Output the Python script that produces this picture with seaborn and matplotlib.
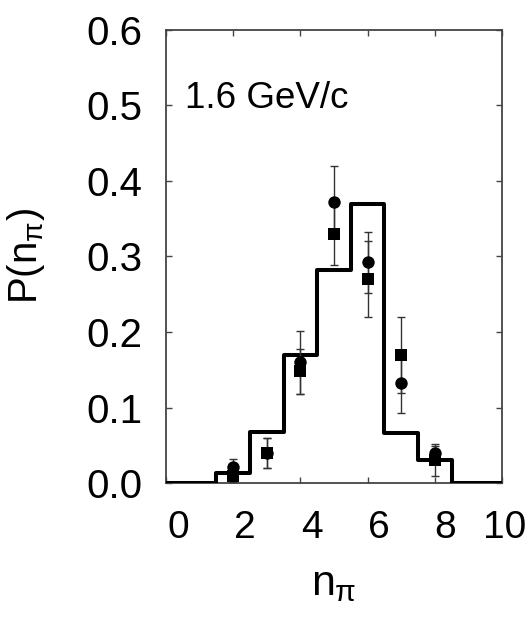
import numpy as np
import pandas as pd
import matplotlib
matplotlib.use("Agg")
import matplotlib.pyplot as plt
import matplotlib.transforms as mtransforms
import seaborn as sns

# ---- data ----
hist_n = [0, 1, 2, 3, 4, 5, 6, 7, 8, 9, 10]
hist_p = [0.0, 0.0, 0.013, 0.068, 0.169, 0.282, 0.369, 0.067, 0.031, 0.0, 0.0]

n_vals = [2, 3, 4, 5, 6, 7, 8]
circ_p = [0.022, 0.040, 0.160, 0.372, 0.292, 0.133, 0.040]
circ_err = [0.010, 0.020, 0.042, 0.048, 0.040, 0.040, 0.009]
sq_p = [0.010, 0.040, 0.148, 0.329, 0.270, 0.170, 0.031]
sq_err = [0.008, 0.020, 0.030, 0.040, 0.050, 0.050, 0.021]

x_ticks = [0, 2, 4, 6, 8, 10]
y_ticks = [0.0, 0.1, 0.2, 0.3, 0.4, 0.5, 0.6]
y_ticklabels = ["0.0", "0.1", "0.2", "0.3", "0.4", "0.5", "0.6"]
label_text = "1.6 GeV/c"

sns.set_theme(style="ticks")
plt.rcParams["font.family"] = ["Liberation Sans", "DejaVu Sans"]
plt.rcParams["mathtext.fontset"] = "custom"
plt.rcParams["mathtext.rm"] = "Liberation Sans"
plt.rcParams["mathtext.it"] = "Liberation Sans"
plt.rcParams["text.color"] = "black"
plt.rcParams["axes.labelcolor"] = "black"

fig = plt.figure(figsize=(5.32, 6.2), dpi=100)
ax = fig.add_axes([0.312, 0.2205, 0.6316, 0.7319])

hist_df = pd.DataFrame({"n": hist_n, "p": hist_p})
sns.lineplot(data=hist_df, x="n", y="p", ax=ax, drawstyle="steps-mid",
             color="black", linewidth=2.9, zorder=3)

ax.errorbar(n_vals, circ_p, yerr=circ_err, fmt="none", ecolor="#333333",
            elinewidth=1.0, capsize=3, capthick=1.0, zorder=4)
ax.errorbar(n_vals, sq_p, yerr=sq_err, fmt="none", ecolor="#333333",
            elinewidth=1.0, capsize=3, capthick=1.0, zorder=4)

circ_df = pd.DataFrame({"n": n_vals, "p": circ_p})
sq_df = pd.DataFrame({"n": n_vals, "p": sq_p})
sns.scatterplot(data=circ_df, x="n", y="p", ax=ax, marker="o", s=80,
                color="black", edgecolor="black", linewidth=0, zorder=5)
sns.scatterplot(data=sq_df, x="n", y="p", ax=ax, marker="s", s=75,
                color="black", edgecolor="black", linewidth=0, zorder=5)

ax.set_xlim(0, 10)
ax.set_ylim(0, 0.6)
ax.set_xticks(x_ticks)
ax.set_xticklabels([str(v) for v in x_ticks])
ax.set_yticks(y_ticks)
ax.set_yticklabels(y_ticklabels)

ax.tick_params(axis="both", direction="in", length=4, width=1.0,
               color="#444444", labelsize=29, labelcolor="black",
               top=True, right=True)
ax.tick_params(axis="x", pad=19, labelsize=28)
ax.tick_params(axis="y", pad=17)

# shift x tick labels slightly right, as in the reference
shifts_px = [12, 12, 12, 11, 10, 3]
for lab, dx in zip(ax.get_xticklabels(), shifts_px):
    off = mtransforms.ScaledTranslation(dx / 100.0, 0, fig.dpi_scale_trans)
    lab.set_transform(lab.get_transform() + off)

for sp in ax.spines.values():
    sp.set_color("#444444")
    sp.set_linewidth(1.3)

ax.set_xlabel(r"$n_\pi$", fontsize=31, labelpad=13, color="black")
ax.set_ylabel(r"P($n_\pi$)", fontsize=29, labelpad=28, color="black")

ax.text(0.057, 0.826, label_text, transform=ax.transAxes, fontsize=26.5,
        ha="left", va="baseline", color="black")

fig.savefig("out.png", dpi=100, facecolor="white")
